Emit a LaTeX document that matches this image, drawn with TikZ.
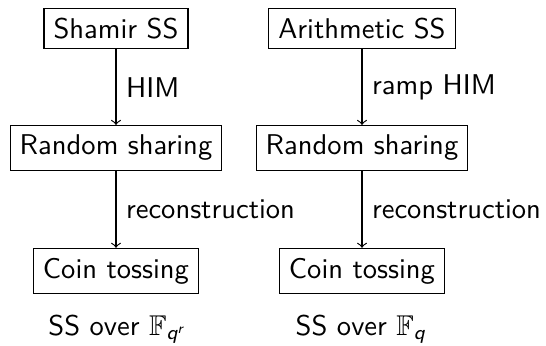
\documentclass[tikz,border=0pt]{standalone}
\usepackage{amsmath,amssymb}
\renewcommand{\familydefault}{\sfdefault}
\newcommand{\sfit}[1]{\text{\sffamily\itshape #1}}
\begin{document}
\begin{tikzpicture}[x=0.35pt,y=-0.35pt,
  font=\sffamily,
  blk/.style={draw, rectangle, inner sep=3.33pt},
  lbl/.style={inner sep=0pt},
  arr/.style={->}]
\useasboundingbox (0,0) rectangle (546,346);
\node[blk] (s1) at (116,28.5) {Shamir SS};
\node[blk] (r1) at (116,148) {Random sharing};
\node[blk] (c1) at (116,271) {Coin tossing};
\node[lbl] (f1) at (117,329) {SS over $\mathbb{F}_{\sfit{q}^{\sfit{r}}}$};
\node[blk] (s2) at (362,28.5) {Arithmetic SS};
\node[blk] (r2) at (362,148) {Random sharing};
\node[blk] (c2) at (362,271) {Coin tossing};
\node[lbl] (f2) at (361,329) {SS over $\mathbb{F}_{\sfit{q}}$};
\draw[arr] (s1) -- node[right] {HIM} (r1);
\draw[arr] (r1) -- node[right] {reconstruction} (c1);
\draw[arr] (s2) -- node[right] {ramp HIM} (r2);
\draw[arr] (r2) -- node[right] {reconstruction} (c2);
\end{tikzpicture}
\end{document}
